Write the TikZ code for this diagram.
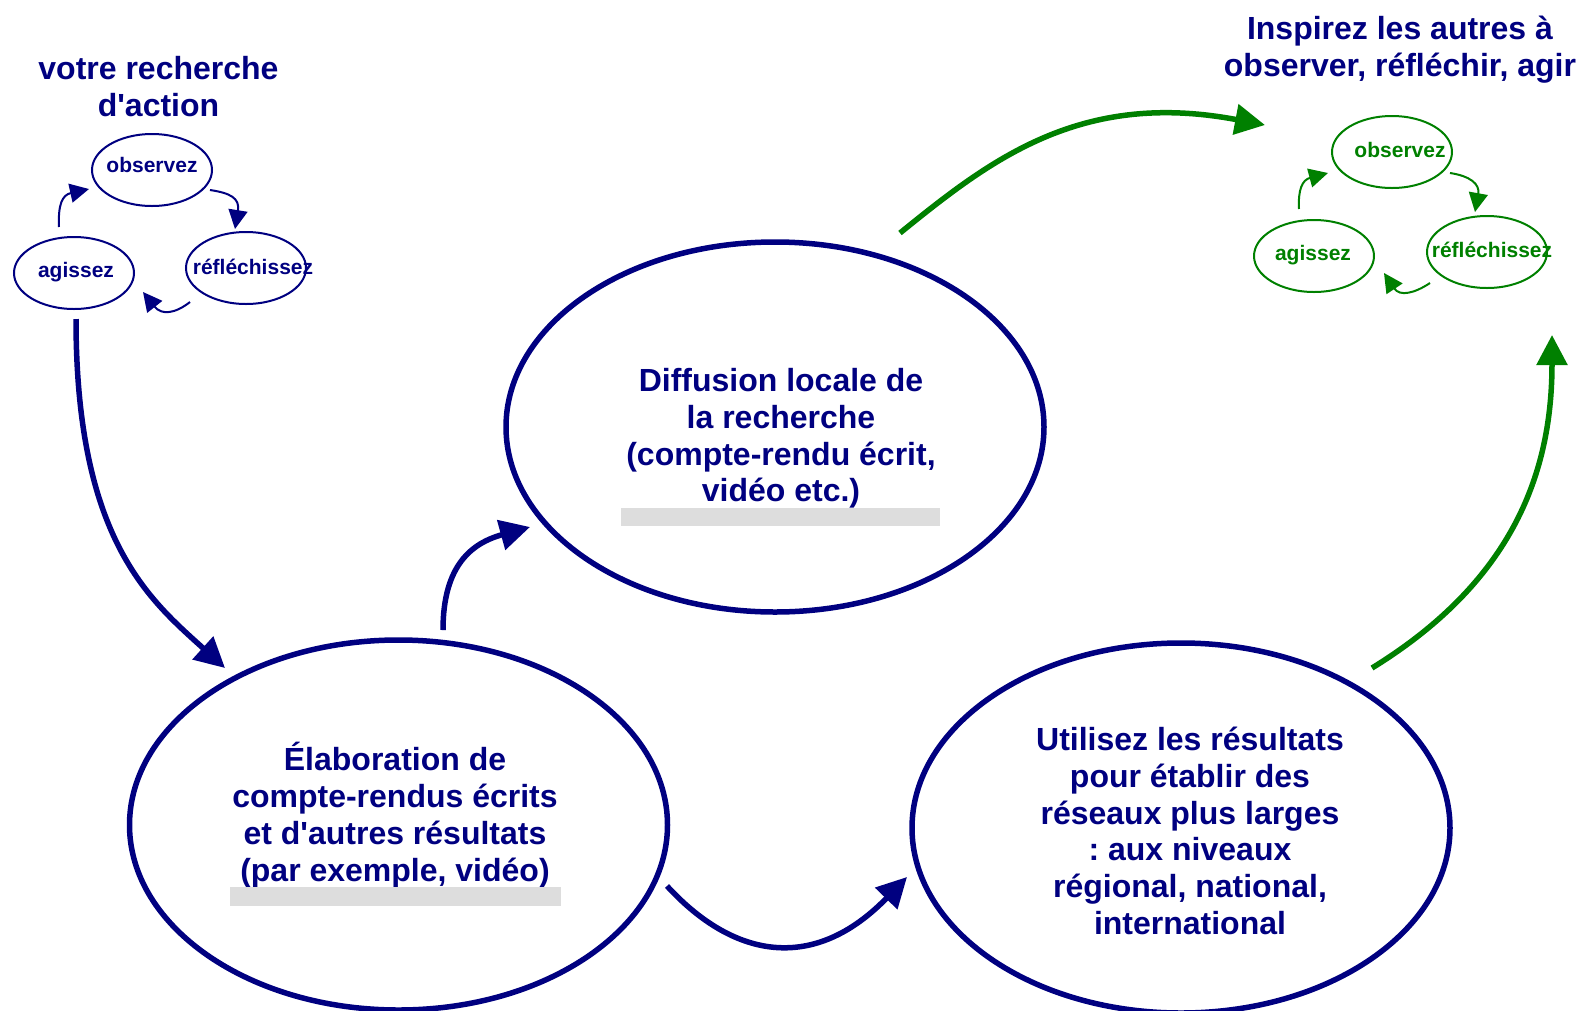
\documentclass[tikz,border=0pt]{standalone}
\usepackage{fontspec}
\setmainfont{Liberation Sans}
\usetikzlibrary{arrows.meta,shapes.geometric}
\definecolor{navy}{RGB}{0,0,128}
\definecolor{dgreen}{RGB}{0,128,0}
\definecolor{barg}{RGB}{221,221,221}
\frenchspacing
\begin{document}
\begin{tikzpicture}[x=1pt,y=-1pt,
  bigell/.style={draw=navy, line width=5.5pt, ellipse, minimum width=538pt, minimum height=370pt, inner sep=0pt, outer sep=0pt},
  smallell/.style={ellipse, line width=2pt, minimum width=120pt, minimum height=72pt, inner sep=0pt, outer sep=0pt},
  bigtxt/.style={font=\bfseries\fontsize{32}{36.8}\selectfont, align=center, text=navy},
  smalltxt/.style={font=\bfseries\fontsize{21}{25}\selectfont},
  bigarrow/.style={line width=5.5pt, -{Triangle[length=30pt,width=30pt]}},
  smallarrow/.style={line width=2pt, -{Triangle[length=19pt,width=19pt]}},
  graybar/.style={fill=barg, draw=none}
]
\useasboundingbox (0,0) rectangle (1583,1010);

% big ellipses
\node[bigell] (diff) at (775,427) {};
\node[bigell] (elab) at (398.5,825) {};
\node[bigell] (util) at (1181,828) {};

% small ellipses left (navy)
\node[smallell, draw=navy] (obsL) at (152,170) {};
\node[smallell, draw=navy] (refL) at (246,268) {};
\node[smallell, draw=navy] (agL) at (74,273) {};
% small ellipses right (green)
\node[smallell, draw=dgreen] (obsR) at (1392,152) {};
\node[smallell, draw=dgreen] (refR) at (1487,252) {};
\node[smallell, draw=dgreen] (agR) at (1314,256) {};

% texts
\node[bigtxt] (tdiff) at (781,438.5) {Diffusion locale de\\la recherche\\(compte-rendu écrit,\\vidéo etc.)};
\node[bigtxt] (telab) at (395,815) {Élaboration de\\compte-rendus écrits\\et d\textquotesingle autres résultats\\(par exemple, vidéo)};
\node[bigtxt] (tutil) at (1190,831) {Utilisez les résultats\\pour établir des\\réseaux plus larges\\: aux niveaux\\régional, national,\\international};
\node[bigtxt] (titL) at (158.5,86.5) {votre recherche\\d\textquotesingle action};
\node[bigtxt] (titR) at (1400,49.5) {Inspirez les autres à\\observer, réfléchir, agir};

\node[smalltxt, text=navy] (tobsL) at (152,165) {observez};
\node[smalltxt, text=navy] (trefL) at (253,267) {réfléchissez};
\node[smalltxt, text=navy] (tagL) at (76,272) {agissez};
\node[smalltxt, text=dgreen] (tobsR) at (1400,150) {observez};
\node[smalltxt, text=dgreen] (trefR) at (1492,250) {réfléchissez};
\node[smalltxt, text=dgreen] (tagR) at (1313,255) {agissez};

% gray bars
\fill[graybar] (621,508) rectangle (940,526);
\fill[graybar] (230,887) rectangle (561,906);

% big arrows
\draw[bigarrow, navy] ([shift={(2,10)}]agL.south) .. controls (76,540) and (150,600) .. ([shift={(-173.5,-157)}]elab.center);
\draw[bigarrow, navy] ([shift={(44.5,-195)}]elab.center) .. controls (443,565) and (472,543) .. ([shift={(-245,100)}]diff.center);
\draw[bigarrow, navy] ([shift={(268.5,61)}]elab.center) .. controls (735,960) and (815,972) .. ([shift={(-274,49)}]util.center);
\draw[bigarrow, dgreen] ([shift={(125,-194)}]diff.center) .. controls (990,160) and (1080,90) .. ([shift={(-127,-27)}]obsR.center);
\draw[bigarrow, dgreen] ([shift={(191,-160)}]util.center) .. controls (1515,580) and (1552,470) .. ([shift={(65,83)}]refR.center);

% small arrows left
\draw[smallarrow, navy] ([shift={(-15,-46)}]agL.center) .. controls (58,205) and (62,195) .. ([shift={(-63,19)}]obsL.center);
\draw[smallarrow, navy] ([shift={(58,20)}]obsL.center) .. controls (230,193) and (240,198) .. ([shift={(-11,-39)}]refL.center);
\draw[smallarrow, navy] ([shift={(-56,34)}]refL.center) .. controls (176,313) and (162,316) .. ([shift={(69,19)}]agL.center);
% small arrows right
\draw[smallarrow, dgreen] ([shift={(-15,-47)}]agR.center) .. controls (1298,190) and (1302,180) .. ([shift={(-64,21)}]obsR.center);
\draw[smallarrow, dgreen] ([shift={(58,21)}]obsR.center) .. controls (1470,176) and (1480,184) .. ([shift={(-12,-40)}]refR.center);
\draw[smallarrow, dgreen] ([shift={(-57,31)}]refR.center) .. controls (1415,293) and (1400,297) .. ([shift={(70,17)}]agR.center);
\end{tikzpicture}
\end{document}
